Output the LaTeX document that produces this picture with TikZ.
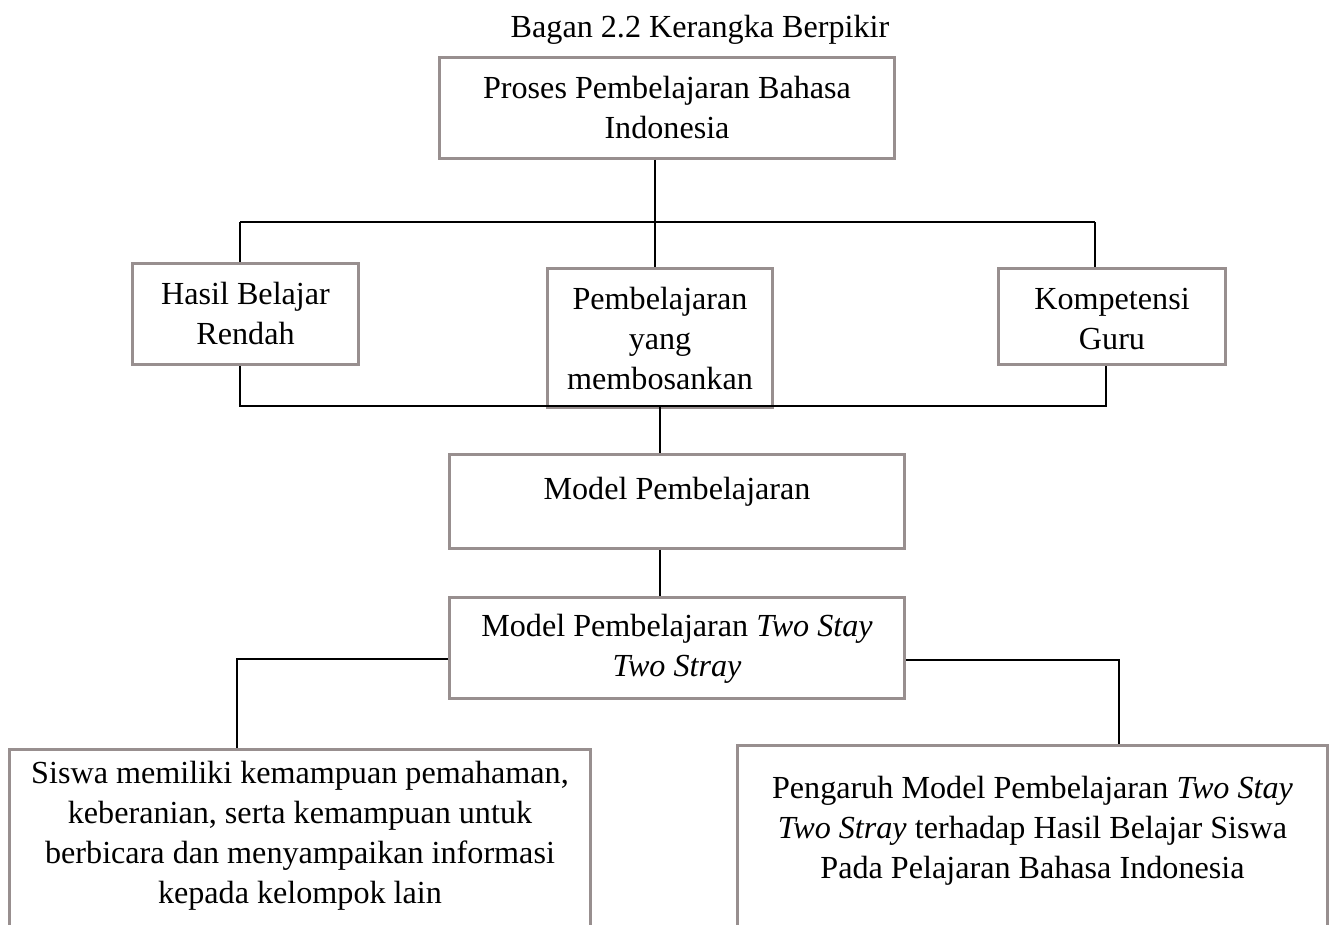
\documentclass[tikz,border=0pt]{standalone}
\usepackage{fontspec}
\setmainfont{Liberation Serif}
\usepackage{tikz}
\usepackage{xcolor}
\definecolor{boxgray}{RGB}{152,143,143}

\begin{document}
\begin{tikzpicture} [x=0.02cm, y=-0.02cm, font=\fontsize{18.3pt}{22.76pt}\selectfont,
	box/.style={draw=boxgray, line width=0.06cm, align=center, inner sep=0pt, anchor=north},
	link/.style={line width=0.04cm}] %kerangka berpikir
\useasboundingbox (0,0) rectangle (1331,924);
\clip (0,0) rectangle (1331,924);

\node [anchor=base] (judul) at (700,37) {Bagan 2.2 Kerangka Berpikir};

	%boxes, placed by their top edge (text height runs to the last baseline)
\node [box, minimum width=9.12cm, text height=1.62cm, text depth=0.40cm] (proses) at (667,56) {Proses Pembelajaran Bahasa\\ Indonesia};
\node [box, minimum width=4.54cm, text height=1.62cm, text depth=0.40cm] (hasil) at (245.5,262) {Hasil Belajar\\ Rendah};
\node [box, minimum width=4.52cm, text height=2.42cm, text depth=0.36cm] (pemb) at (660,267) {Pembelajaran\\ yang\\ membosankan};
\node [box, minimum width=4.56cm, text height=1.62cm, text depth=0.30cm] (komp) at (1112,267) {Kompetensi\\ Guru};
\node [box, minimum width=9.12cm, text height=0.90cm, text depth=0.98cm] (model) at (677,453) {Model Pembelajaran};
\node [box, minimum width=9.12cm, text height=1.58cm, text depth=0.44cm] (tsts) at (677,596) {Model Pembelajaran \textit{Two Stay}\\ \textit{Two Stray}};
\node [box, minimum width=11.64cm, text height=3.08cm, text depth=1.56cm] (siswa) at (300,748) {Siswa memiliki kemampuan pemahaman,\\ keberanian, serta kemampuan untuk\\ berbicara dan menyampaikan informasi\\ kepada kelompok lain};
\node [box, minimum width=11.82cm, text height=2.66cm, text depth=2.06cm] (pengaruh) at (1032.5,744) {Pengaruh Model Pembelajaran \textit{Two Stay}\\ \textit{Two Stray} terhadap Hasil Belajar Siswa\\ Pada Pelajaran Bahasa Indonesia};

	%junction points of the connectors
\coordinate (tl) at (240,222);
\coordinate (tm) at (655,222);
\coordinate (tr) at (1095,222);
\coordinate (bl) at (240,406);
\coordinate (bm) at (660,406);
\coordinate (br) at (1106,406);
\coordinate (sl) at (237,659);
\coordinate (sr) at (1119,660);
	%end of coordinate code

\draw [link] (proses.south -| tm) -- (tm);
\draw [link] (tl) -- (tr);
\draw [link] (tl) -- (tl |- hasil.north);
\draw [link] (tm) -- (tm |- pemb.north);
\draw [link] (tr) -- (tr |- komp.north);

\draw [link] (hasil.south -| bl) -- (bl) -- (br) -- (br |- komp.south);
\draw [link] (bm) -- (bm |- model.north);
\draw [link] (model.south -| bm) -- (tsts.north -| bm);

\draw [link] (tsts.west |- sl) -- (sl) -- (sl |- siswa.north);
\draw [link] (tsts.east |- sr) -- (sr) -- (sr |- pengaruh.north);

\end{tikzpicture}
\end{document}
